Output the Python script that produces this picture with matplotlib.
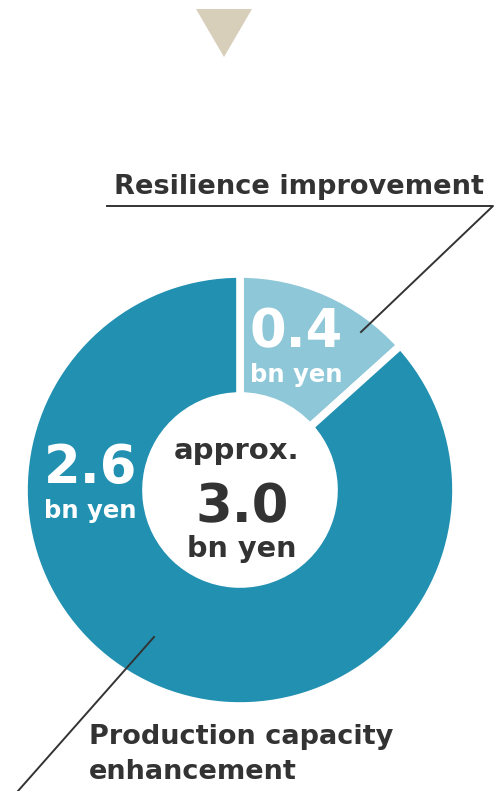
import matplotlib
matplotlib.use("Agg")
import matplotlib.pyplot as plt
from matplotlib.patches import Polygon

# data
values = [0.4, 2.6]
value_labels = ["0.4", "2.6"]
unit = "bn yen"
names = ["Resilience improvement", "Production capacity", "enhancement"]
total_label = "3.0"
colors = ["#8EC7D8", "#2190B1"]
dark = "#333333"

plt.rcParams['font.family'] = ['DejaVu Sans']

fig = plt.figure(figsize=(4.98, 7.91), dpi=100)
ax = fig.add_axes([0, 0, 1, 1])

# donut, pixel-like coordinates with y going up
# (white edge eats ~4px on both rims, so radius is a bit bigger)
cx, cy, R = 240, 301, 216
ax.pie(values, colors=colors, startangle=90, counterclock=False,
       center=(cx, cy), radius=R, frame=True,
       wedgeprops=dict(width=122, edgecolor="white", linewidth=5.5))

# triangle marker at the top
ax.add_patch(Polygon([(196, 782), (252, 782), (224, 734)], closed=True,
                     color="#D7CFBA", lw=0))

# slice labels
ax.text(296, 444, value_labels[0], color="white", fontsize=38, fontweight="bold",
        ha="center", va="baseline")
ax.text(296, 409, unit, color="white", fontsize=17.5, fontweight="bold",
        ha="center", va="baseline")
ax.text(91, 308, value_labels[1], color="white", fontsize=38, fontweight="bold",
        ha="center", va="baseline")
ax.text(90, 273, unit, color="white", fontsize=17.5, fontweight="bold",
        ha="center", va="baseline")

# center total
ax.text(237, 332, "approx.", color=dark, fontsize=21, fontweight="bold",
        ha="center", va="baseline")
ax.text(242, 269, total_label, color=dark, fontsize=38, fontweight="bold",
        ha="center", va="baseline")
ax.text(242, 234, unit, color=dark, fontsize=20.7, fontweight="bold",
        ha="center", va="baseline")

# callouts
ax.text(299, 597, names[0], color=dark, fontsize=19.6, fontweight="bold",
        ha="center", va="baseline")
ax.plot([107, 493, 361], [585, 585, 459], color=dark, lw=1.4)
ax.text(89, 47, names[1], color=dark, fontsize=19.5, fontweight="bold",
        ha="left", va="baseline")
ax.text(89, 12, names[2], color=dark, fontsize=19.5, fontweight="bold",
        ha="left", va="baseline")
ax.plot([154, 18], [154, 0], color=dark, lw=1.4)

ax.set_xlim(0, 498)
ax.set_ylim(0, 791)
ax.set_aspect("auto")
ax.axis("off")

fig.savefig("out.png", dpi=100, facecolor="white")
